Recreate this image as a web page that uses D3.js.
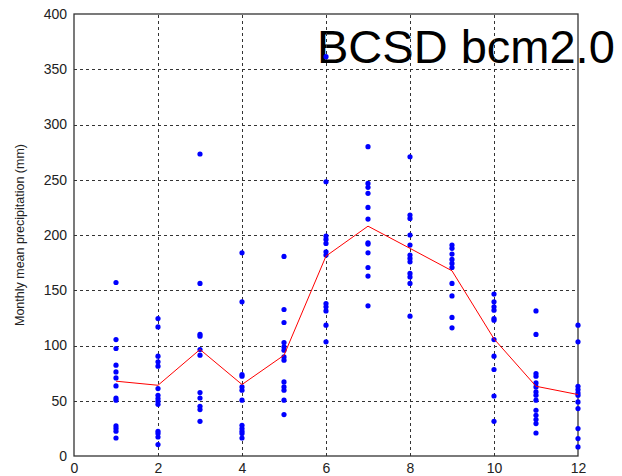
<!DOCTYPE html>
<html>
<head>
<meta charset="utf-8">
<script src="https://cdn.jsdelivr.net/npm/d3@7/dist/d3.min.js"></script>
<style>
  html, body { margin: 0; padding: 0; background: #fff; }
  svg { display: block; }
</style>
</head>
<body>
<script>
// Monthly mean precipitation (mm), downscaled ensemble members per month
const months = [1, 2, 3, 4, 5, 6, 7, 8, 9, 10, 11, 12];
const m1  = [157, 105.4, 97.3, 82.2, 76.1, 70.7, 63.4, 52.5, 50.5, 27.2, 24.8, 22.4, 16.3];
const m2  = [124.4, 116.8, 90.3, 85.2, 81.3, 61, 55, 52, 49.5, 46.8, 22.4, 20.3, 17.2, 10.3];
const m3  = [273.3, 156.2, 110.2, 108.4, 96.4, 91.2, 57.4, 52.5, 45, 42, 31.4];
const m4  = [183.9, 139.5, 73.7, 72.2, 62.5, 59.5, 50.5, 27.8, 24.8, 22.4, 20.3, 16.3];
const m5  = [180.6, 132.6, 120.8, 102.7, 98.7, 95.7, 89.7, 86.7, 67, 62.5, 59.5, 50.5, 37.5];
const m6  = [361.4, 248.2, 199, 196, 192.4, 184.8, 181.8, 138, 135, 131.3, 118.4, 103.3];
const m7  = [279.9, 246.7, 243.1, 237.7, 225, 214.4, 192.9, 191.8, 183.9, 170.6, 162.8, 135.9];
const m8  = [270.8, 218, 215, 200, 190.9, 181.8, 178.8, 175.7, 165.2, 162.1, 156.2, 126.5];
const m9  = [190.9, 187.9, 182.7, 177.9, 174.3, 170.6, 156.2, 144.9, 125.4, 116];
const m10 = [146.5, 139.5, 135, 132, 124.4, 122.9, 105.4, 90.3, 78.3, 54.3, 31.4];
const m11 = [131.3, 110, 74.6, 72.2, 66.1, 62.5, 58, 55, 50.5, 41.4, 36.9, 33, 29.3, 20.8];
const m12 = [118.4, 103.3, 63.1, 60.1, 57.1, 55, 48.9, 42.9, 24.8, 15.8, 8.2];
const members = [m1, m2, m3, m4, m5, m6, m7, m8, m9, m10, m11, m12];

// Ensemble mean per month (red line)
const meanValues = [67.7, 64, 96.4, 64.7, 91.2, 180.9, 208, 187.9, 167.6, 106, 63.1, 55.6];

const xTicks = [0, 2, 4, 6, 8, 10, 12];
const yTicks = [0, 50, 100, 150, 200, 250, 300, 350, 400];
const titleText = "BCSD bcm2.0";
const yLabelText = "Monthly mean precipitation (mm)";

const W = 622, H = 476;
const margin = { left: 74, right: 44, top: 14, bottom: 20 };
const plotW = W - margin.left - margin.right;
const plotH = H - margin.top - margin.bottom;

const svg = d3.select("body").append("svg")
  .attr("width", W).attr("height", H)
  .style("font-family", "Arial, 'Liberation Sans', Helvetica, sans-serif");

const x = d3.scaleLinear().domain([0, 12]).range([margin.left, margin.left + plotW]);
const y = d3.scaleLinear().domain([0, 400]).range([margin.top + plotH, margin.top]);

// Title (sits behind the data marks)
svg.append("text")
  .attr("x", 317).attr("y", 63)
  .attr("fill", "#000").style("font-size", "47px")
  .text(titleText);

// Dashed grid
const grid = svg.append("g").attr("stroke", "#333").attr("stroke-width", 1)
  .attr("stroke-dasharray", "3,3").attr("shape-rendering", "crispEdges");
grid.selectAll("line.gx").data(xTicks.slice(1, -1)).join("line")
  .attr("x1", d => Math.round(x(d)) + 0.5).attr("x2", d => Math.round(x(d)) + 0.5)
  .attr("y1", y(0)).attr("y2", y(400));
grid.selectAll("line.gy").data(yTicks.slice(1, -1)).join("line")
  .attr("y1", d => Math.round(y(d)) + 0.5).attr("y2", d => Math.round(y(d)) + 0.5)
  .attr("x1", x(0)).attr("x2", x(12));

// Axes
const xAxis = d3.axisBottom(x).tickValues(xTicks).tickSize(0).tickPadding(7).tickFormat(d3.format("d"));
const yAxis = d3.axisLeft(y).tickValues(yTicks).tickSize(0).tickPadding(7).tickFormat(d3.format("d"));

const gx = svg.append("g").attr("transform", `translate(0,${y(0)})`).call(xAxis);
const gy = svg.append("g").attr("transform", `translate(${x(0)},0)`).call(yAxis);
[gx, gy].forEach(g => {
  g.select(".domain").remove();
  g.selectAll("text").attr("fill", "#222").style("font-size", "14px");
});

// Box frame
svg.append("rect")
  .attr("x", x(0)).attr("y", y(400))
  .attr("width", x(12) - x(0)).attr("height", y(0) - y(400))
  .attr("fill", "none").attr("stroke", "#333").attr("stroke-width", 1.3);

// Member points
const pts = [];
members.forEach((vals, i) => vals.forEach(v => pts.push({ m: months[i], v })));
svg.append("g").selectAll("circle").data(pts).join("circle")
  .attr("cx", d => x(d.m)).attr("cy", d => y(d.v)).attr("r", 2.6)
  .attr("fill", "#0000ff");

// Mean line
const line = d3.line().x((d, i) => x(months[i])).y(d => y(d));
svg.append("path").datum(meanValues)
  .attr("d", line).attr("fill", "none").attr("stroke", "#ff0000").attr("stroke-width", 1);

// Y label
svg.append("text")
  .attr("transform", `translate(24,${y(200)}) rotate(-90)`)
  .attr("text-anchor", "middle").attr("fill", "#222")
  .style("font-size", "12.5px").text(yLabelText);
</script>
</body>
</html>
